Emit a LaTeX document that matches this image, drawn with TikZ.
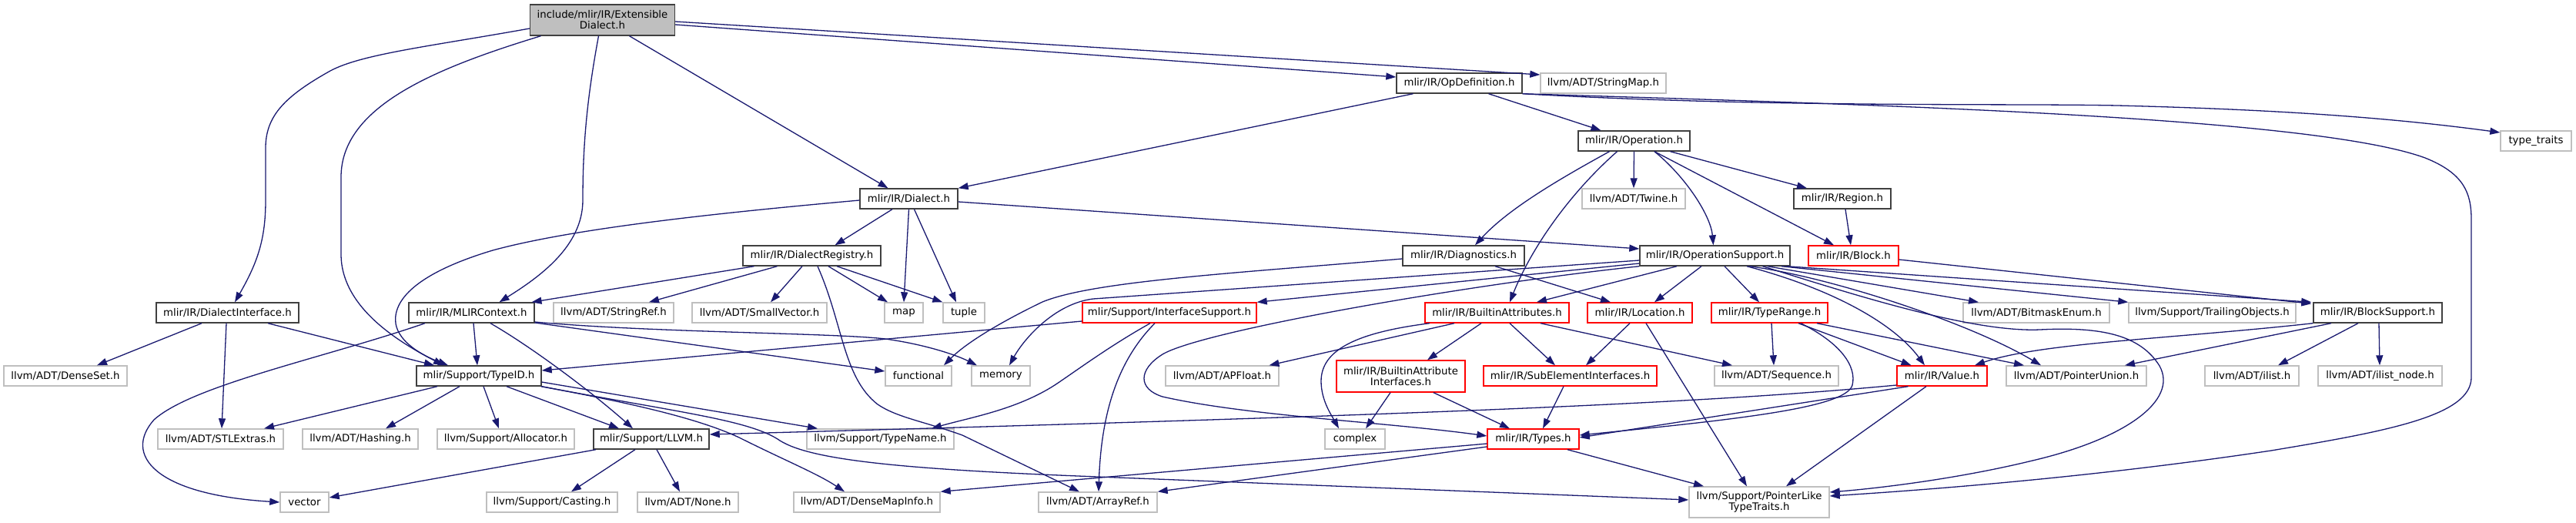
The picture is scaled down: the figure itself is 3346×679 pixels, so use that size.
\documentclass[tikz,border=0pt]{standalone}
\usepackage{fontspec}
\setmainfont{DejaVu Sans}
\usetikzlibrary{arrows.meta}
\definecolor{edgecol}{HTML}{191970}
\definecolor{greyl}{HTML}{BFBFBF}
\definecolor{docbd}{HTML}{404040}
\begin{document}
\begin{tikzpicture}[x=1pt,y=-1pt,
  nbox/.style={rectangle, inner sep=0pt, minimum height=26pt, align=center, fill=white, line width=1.4pt, font=\fontsize{13.3}{14}\selectfont},
  doc/.style={nbox, draw=docbd},
  redbox/.style={nbox, draw=red},
  sys/.style={nbox, draw=greyl},
  conn/.style={draw=edgecol, line width=1.3pt, -{Triangle[length=13pt,width=9pt]}}
]
\fill[white] (0,0) rectangle (3346,679);
\useasboundingbox (0,0) rectangle (3346,679);

% row 0
\node[doc, fill=greyl, minimum width=188pt, minimum height=40pt] (ext) at (782.5,26) {include/mlir/IR/Extensible\\Dialect.h};
% row 1
\node[doc, minimum width=163pt] (opdef) at (1895.5,108) {mlir/IR/OpDefinition.h};
\node[sys, minimum width=163pt] (strmap) at (2082.5,108) {llvm/ADT/StringMap.h};
% row 2
\node[doc, minimum width=145pt] (oper) at (2122.5,183) {mlir/IR/Operation.h};
\node[sys, minimum width=92pt] (ttraits) at (3294,183) {type\_traits};
% row 3
\node[doc, minimum width=127pt] (dialect) at (1180.5,258) {mlir/IR/Dialect.h};
\node[sys, minimum width=134pt] (twine) at (2122,258) {llvm/ADT/Twine.h};
\node[doc, minimum width=126pt] (region) at (2393,258) {mlir/IR/Region.h};
% row 4
\node[doc, minimum width=179pt] (dreg) at (1054.5,332) {mlir/IR/DialectRegistry.h};
\node[doc, minimum width=158pt] (diag) at (1901,332) {mlir/IR/Diagnostics.h};
\node[doc, minimum width=195pt] (opsup) at (2227.5,332) {mlir/IR/OperationSupport.h};
\node[redbox, minimum width=117pt] (block) at (2407.5,332) {mlir/IR/Block.h};
% row 5
\node[doc, minimum width=185pt] (dint) at (295.5,406) {mlir/IR/DialectInterface.h};
\node[doc, minimum width=163pt] (mlirctx) at (612.5,406) {mlir/IR/MLIRContext.h};
\node[sys, minimum width=156pt] (strref) at (797,406) {llvm/ADT/StringRef.h};
\node[sys, minimum width=175pt] (smallvec) at (986.5,406) {llvm/ADT/SmallVector.h};
\node[sys, minimum width=50pt] (map) at (1174,406) {map};
\node[sys, minimum width=54pt] (tuple) at (1252,406) {tuple};
\node[redbox, minimum width=226pt] (ifsup) at (1519,406) {mlir/Support/InterfaceSupport.h};
\node[redbox, minimum width=187pt] (battr) at (1944.5,406) {mlir/IR/BuiltinAttributes.h};
\node[redbox, minimum width=136pt] (loc) at (2130,406) {mlir/IR/Location.h};
\node[redbox, minimum width=151pt] (trange) at (2298.5,406) {mlir/IR/TypeRange.h};
\node[sys, minimum width=190pt] (bitmask) at (2645,406) {llvm/ADT/BitmaskEnum.h};
\node[sys, minimum width=217pt] (trailing) at (2873.5,406) {llvm/Support/TrailingObjects.h};
\node[doc, minimum width=167pt] (blksup) at (3088.5,406) {mlir/IR/BlockSupport.h};
% row 6
\node[sys, minimum width=160pt] (denseset) at (85,488) {llvm/ADT/DenseSet.h};
\node[doc, minimum width=162pt] (typeid) at (622,488) {mlir/Support/TypeID.h};
\node[sys, minimum width=86pt] (functional) at (1193,488) {functional};
\node[sys, minimum width=76pt] (memory) at (1300,488) {memory};
\node[sys, minimum width=147pt] (apfloat) at (1587.5,488) {llvm/ADT/APFloat.h};
\node[redbox, minimum width=167pt, minimum height=41pt] (bai) at (1819.5,488.5) {mlir/IR/BuiltinAttribute\\Interfaces.h};
\node[redbox, minimum width=225pt] (sei) at (2039.5,488) {mlir/IR/SubElementInterfaces.h};
\node[sys, minimum width=161pt] (sequence) at (2307.5,488) {llvm/ADT/Sequence.h};
\node[redbox, minimum width=117pt] (value) at (2522.5,488) {mlir/IR/Value.h};
\node[sys, minimum width=182pt] (ptrunion) at (2697,488) {llvm/ADT/PointerUnion.h};
\node[sys, minimum width=122pt] (ilist) at (2925,488) {llvm/ADT/ilist.h};
\node[sys, minimum width=161pt] (ilistnode) at (3091.5,488) {llvm/ADT/ilist\_node.h};
% row 7
\node[sys, minimum width=163pt] (stlextras) at (286.5,570) {llvm/ADT/STLExtras.h};
\node[sys, minimum width=150pt] (hashing) at (468,570) {llvm/ADT/Hashing.h};
\node[sys, minimum width=178pt] (allocator) at (657,570) {llvm/Support/Allocator.h};
\node[doc, minimum width=150pt] (llvmh) at (846,570) {mlir/Support/LLVM.h};
\node[sys, minimum width=191pt] (typename) at (1143.5,570) {llvm/Support/TypeName.h};
\node[sys, minimum width=78pt] (complex) at (1760,570) {complex};
\node[redbox, minimum width=119pt] (types) at (1991.5,570) {mlir/IR/Types.h};
% row 8
\node[sys, minimum width=63pt] (vector) at (395.5,652) {vector};
\node[sys, minimum width=170pt] (casting) at (717,652) {llvm/Support/Casting.h};
\node[sys, minimum width=131pt] (none) at (893.5,652) {llvm/ADT/None.h};
\node[sys, minimum width=190pt] (densemapinfo) at (1126,652) {llvm/ADT/DenseMapInfo.h};
\node[sys, minimum width=154pt] (arrayref) at (1426,652) {llvm/ADT/ArrayRef.h};
\node[sys, minimum width=182pt, minimum height=40pt] (ptrlike) at (2285,652) {llvm/Support/PointerLike\\TypeTraits.h};

% ExtensibleDialect.h
\draw[conn] ([yshift=-11pt]ext.west) .. controls (560,60) and (470,70) .. (429,92) .. controls (370,125) and (346,150) .. (345,190) -- (345,260) .. controls (345,310) and (335,340) .. ([xshift=9.5pt]dint.north);
\draw[conn] ([xshift=-80pt]ext.south) .. controls (560,90) and (443,140) .. (443,230) -- (443,330) .. controls (443,400) and (520,445) .. ([xshift=-46pt]typeid.north);
\draw[conn] ([xshift=-5pt]ext.south) .. controls (762,130) and (757,190) .. (757,260) .. controls (757,320) and (700,360) .. ([xshift=36pt]mlirctx.north);
\draw[conn] ([xshift=35pt]ext.south) -- ([xshift=-27pt]dialect.north);
\draw[conn] ([yshift=-6pt]ext.east) -- ([yshift=8pt]opdef.west);
\draw[conn] ([yshift=-2pt]ext.east) -- ([yshift=11pt]strmap.west);
% OpDefinition.h
\draw[conn] ([xshift=-60pt]opdef.south) -- (dialect.north east);
\draw[conn] ([xshift=38pt]opdef.south) -- ([xshift=-43pt]oper.north);
\draw[conn] (opdef.south east) .. controls (2300,140) and (2600,134) .. (2750,137) .. controls (2950,142) and (3100,152) .. ([yshift=11pt]ttraits.west);
\draw[conn] (opdef.south east) .. controls (2400,135) and (3000,150) .. (3150,205) .. controls (3200,225) and (3210,250) .. (3210,285) -- (3210,490) .. controls (3210,540) and (3100,560) .. (2950,585) .. controls (2750,615) and (2550,633) .. ([yshift=8pt]ptrlike.east);
% Operation.h
\draw[conn] ([xshift=-32pt]oper.south) .. controls (2030,230) and (1960,270) .. ([xshift=15pt]diag.north);
\draw[conn] ([xshift=-22pt]oper.south) .. controls (2040,250) and (1990,320) .. ([xshift=16.5pt]battr.north);
\draw[conn] (oper.south) -- (twine.north);
\draw[conn] ([xshift=26.5pt]oper.south) .. controls (2190,230) and (2222,280) .. ([xshift=-2pt]opsup.north);
\draw[conn] ([xshift=26.5pt]oper.south) -- ([xshift=-25.5pt]block.north);
\draw[conn] ([xshift=47pt]oper.south) -- ([xshift=-46pt]region.north);
% Region.h
\draw[conn] ([xshift=4pt]region.south) -- ([xshift=-3.5pt]block.north);
% Dialect.h
\draw[conn] ([xshift=-21.5pt]dialect.south) -- ([xshift=30pt]dreg.north);
\draw[conn] (dialect.south) -- (map.north);
\draw[conn] ([xshift=7pt]dialect.south) -- ([xshift=-10pt]tuple.north);
\draw[conn] ([yshift=-2pt]dialect.west) .. controls (950,275) and (750,295) .. (640,325) .. controls (540,355) and (510,390) .. (514,420) .. controls (518,445) and (550,462) .. ([xshift=-40pt]typeid.north);
\draw[conn] ([yshift=-4pt]dialect.east) -- ([yshift=9pt]opsup.west);
% DialectRegistry.h
\draw[conn] ([xshift=-75pt]dreg.south) -- ([xshift=78pt]mlirctx.north);
\draw[conn] ([xshift=-45pt]dreg.south) -- ([xshift=46pt]strref.north);
\draw[conn] ([xshift=-12.5pt]dreg.south) -- ([xshift=14.5pt]smallvec.north);
\draw[conn] ([xshift=7.5pt]dreg.south) .. controls (1095,420) and (1095,490) .. (1140,525) .. controls (1165,542) and (1200,547) .. (1250,565) -- ([xshift=-24pt]arrayref.north);
\draw[conn] ([xshift=21.5pt]dreg.south) -- ([xshift=-21pt]map.north);
\draw[conn] ([xshift=32.5pt]dreg.south) -- (tuple.north west);
% Diagnostics.h
\draw[conn] ([xshift=41pt]diag.south) -- ([xshift=-38pt]loc.north);
\draw[conn] ([yshift=-4pt]diag.west) .. controls (1600,355) and (1420,365) .. (1354,392) .. controls (1300,418) and (1255,445) .. ([xshift=33pt]functional.north);
% MLIRContext.h
\draw[conn] ([xshift=2.5pt]mlirctx.south) -- ([xshift=-2pt]typeid.north);
\draw[conn] ([xshift=24.5pt]mlirctx.south) .. controls (690,450) and (770,510) .. ([xshift=-24pt]llvmh.north);
\draw[conn] ([xshift=-60.5pt]mlirctx.south) .. controls (420,465) and (250,500) .. (200,545) .. controls (160,590) and (200,642) .. (vector.west);
\draw[conn] ([yshift=-12pt]mlirctx.east) .. controls (850,432) and (1080,432) .. (1150,440) .. controls (1200,447) and (1240,460) .. ([xshift=-31pt]memory.north);
\draw[conn] ([yshift=-13pt]mlirctx.east) -- ([yshift=6pt]functional.west);
% DialectInterface.h
\draw[conn] ([xshift=-33.5pt]dint.south) -- ([xshift=41pt]denseset.north);
\draw[conn] ([xshift=-1.5pt]dint.south) -- ([xshift=1.5pt]stlextras.north);
\draw[conn] ([xshift=52.5pt]dint.south) -- ([xshift=-58pt]typeid.north);
% InterfaceSupport.h
\draw[conn] ([yshift=-11pt]ifsup.west) -- ([yshift=7pt]typeid.east);
\draw[conn] ([xshift=-25pt]ifsup.south) .. controls (1440,450) and (1400,480) .. (1370,500) .. controls (1320,532) and (1260,542) .. ([xshift=66.5pt]typename.north);
\draw[conn] ([xshift=-19pt]ifsup.south) .. controls (1450,470) and (1430,540) .. ([xshift=1pt]arrayref.north);
% OperationSupport.h
\draw[conn] ([yshift=-10pt]opsup.west) -- (ifsup.north east);
\draw[conn] ([yshift=-6pt]opsup.west) -- (1420,388) .. controls (1370,394) and (1330,440) .. ([xshift=11pt]memory.north);
\draw[conn] (opsup.south west) .. controls (1900,370) and (1560,430) .. (1510,460) .. controls (1478,480) and (1478,505) .. (1510,515) .. controls (1620,540) and (1800,548) .. ([yshift=4pt]types.west);
\draw[conn] ([xshift=-49.5pt]opsup.south) -- ([xshift=51.5pt]battr.north);
\draw[conn] ([xshift=-17.5pt]opsup.south) -- ([xshift=19pt]loc.north);
\draw[conn] ([xshift=12.5pt]opsup.south) -- ([xshift=-13.5pt]trange.north);
\draw[conn] ([xshift=41.5pt]opsup.south) .. controls (2380,375) and (2460,420) .. ([xshift=-22.5pt]value.north);
\draw[conn] ([xshift=45pt]opsup.south) .. controls (2380,360) and (2560,420) .. ([xshift=-46pt]ptrunion.north);
\draw[conn] ([xshift=62pt]opsup.south) .. controls (2400,380) and (2560,432) .. (2650,428) .. controls (2730,424) and (2780,435) .. (2805,475) .. controls (2830,520) and (2760,570) .. (2640,598) .. controls (2550,620) and (2450,633) .. ([yshift=13pt]ptrlike.east);
\draw[conn] ([xshift=-30pt]opsup.south east) -- ([xshift=-75pt]bitmask.north);
\draw[conn] ([xshift=-12pt]opsup.south east) -- (trailing.north west);
\draw[conn] ([xshift=-5pt]opsup.south east) -- ([xshift=-2pt]blksup.north west);
% Block.h
\draw[conn] ([yshift=-5pt]block.east) -- ([xshift=-2pt,yshift=-2pt]blksup.north west);
% BuiltinAttributes.h
\draw[conn] ([xshift=-20.5pt]battr.south) -- ([xshift=34.5pt]bai.north);
\draw[conn] ([xshift=16.5pt]battr.south) -- ([xshift=-19.5pt]sei.north);
\draw[conn] ([xshift=56.5pt]battr.south) -- ([xshift=-57.5pt]sequence.north);
\draw[conn] ([xshift=-55.5pt]battr.south) -- ([xshift=61pt]apfloat.north);
\draw[conn] ([xshift=-87.5pt]battr.south) .. controls (1760,432) and (1716,455) .. (1716,495) .. controls (1716,520) and (1730,540) .. ([xshift=-21pt]complex.north);
% BuiltinAttributeInterfaces.h
\draw[conn] ([xshift=-13.5pt]bai.south) -- ([xshift=14pt]complex.north);
\draw[conn] ([xshift=42.5pt]bai.south) -- ([xshift=-30.5pt]types.north);
% Location.h
\draw[conn] ([xshift=-13pt]loc.south) -- ([xshift=20.5pt]sei.north);
\draw[conn] ([xshift=8pt]loc.south) -- ([xshift=-16pt]ptrlike.north);
% SubElementInterfaces.h
\draw[conn] ([xshift=-8.5pt]sei.south) -- ([xshift=12.5pt]types.north);
% TypeRange.h
\draw[conn] ([xshift=2.5pt]trange.south) -- ([xshift=-3.5pt]sequence.north);
\draw[conn] ([xshift=37.5pt]trange.south) -- ([xshift=-40pt]value.north);
\draw[conn] ([xshift=61.5pt]trange.south) -- ([xshift=-68pt]ptrunion.north);
\draw[conn] ([xshift=40.5pt]trange.south) .. controls (2390,445) and (2412,475) .. (2406,500) .. controls (2398,530) and (2250,545) .. ([yshift=5pt]types.east);
% Value.h
\draw[conn] ([xshift=-44pt]value.south) -- ([yshift=2pt]types.east);
\draw[conn] ([yshift=-12pt]value.west) .. controls (2200,525) and (1800,540) .. ([yshift=6pt]llvmh.east);
\draw[conn] ([xshift=-20.5pt]value.south) -- ([xshift=35pt]ptrlike.north);
% Types.h
\draw[conn] ([yshift=-6pt]types.west) -- (densemapinfo.north east);
\draw[conn] ([yshift=-10pt]types.west) -- (arrayref.north east);
\draw[conn] ([xshift=44.5pt]types.south) -- ([xshift=-72pt]ptrlike.north);
% TypeID.h
\draw[conn] ([xshift=-54pt]typeid.south) -- ([xshift=56.5pt]stlextras.north);
\draw[conn] ([xshift=-25pt]typeid.south) -- ([xshift=33pt]hashing.north);
\draw[conn] ([xshift=6pt]typeid.south) -- ([xshift=-9pt]allocator.north);
\draw[conn] ([xshift=36pt]typeid.south) -- ([xshift=-42pt]llvmh.north);
\draw[conn] ([yshift=-8pt]typeid.east) -- ([xshift=-81.5pt]typename.north);
\draw[conn] (typeid.south east) .. controls (800,520) and (900,540) .. (960,568) .. controls (1020,598) and (1062,615) .. ([xshift=-29pt]densemapinfo.north);
\draw[conn] ([xshift=-1pt]typeid.south east) .. controls (880,535) and (970,545) .. (1010,570) .. controls (1045,595) and (1150,608) .. (1400,618) -- ([yshift=3pt]ptrlike.west);
% LLVM.h
\draw[conn] ([xshift=-72pt]llvmh.south) -- ([yshift=6pt]vector.east);
\draw[conn] ([xshift=-21pt]llvmh.south) -- ([xshift=25pt]casting.north);
\draw[conn] ([xshift=7pt]llvmh.south) -- ([xshift=-10.5pt]none.north);
% BlockSupport.h
\draw[conn] (blksup.south west) .. controls (2820,440) and (2650,445) .. ([xshift=42.5pt]value.north);
\draw[conn] ([xshift=-60.5pt]blksup.south) -- ([xshift=63pt]ptrunion.north);
\draw[conn] ([xshift=-25.5pt]blksup.south) -- ([xshift=34pt]ilist.north);
\draw[conn] ([xshift=1.5pt]blksup.south) -- ([xshift=-0.5pt]ilistnode.north);
\end{tikzpicture}
\end{document}
